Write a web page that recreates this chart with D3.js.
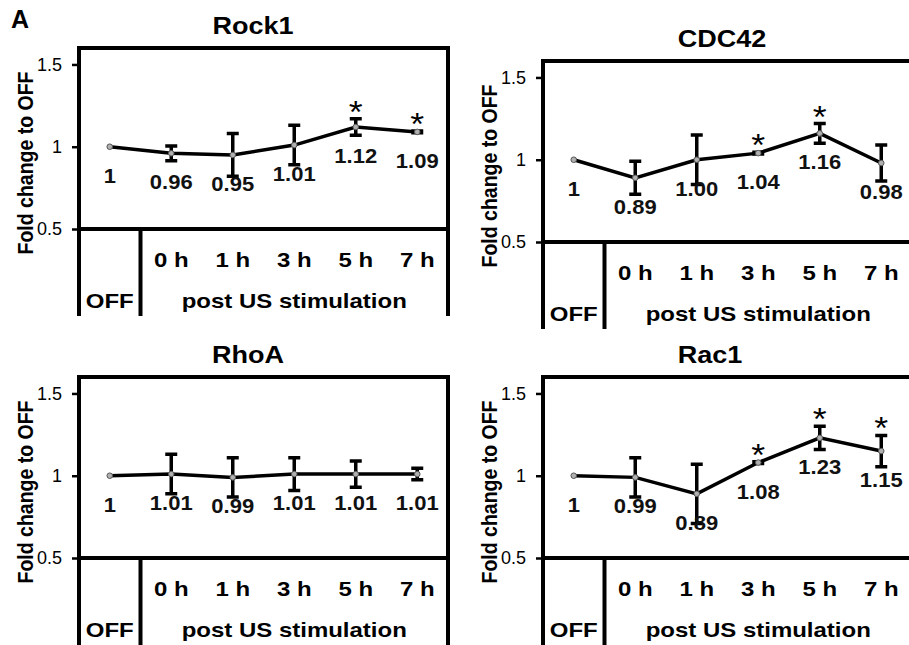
<!DOCTYPE html>
<html>
<head>
<meta charset="utf-8">
<script src="https://cdn.jsdelivr.net/npm/d3@7"></script>
<style>
  body { margin: 0; background: #fff; }
  text { font-family: "Liberation Sans", Arial, Helvetica, sans-serif; fill: #000; }
</style>
</head>
<body>
<script>
// categories on the x axis
var categories = ['OFF', '0 h', '1 h', '3 h', '5 h', '7 h'];
var yTicks = [0.5, 1, 1.5];

// values
var rock1Mean = [1, 0.96, 0.95, 1.01, 1.12, 1.09];
var rock1Err = [0, 0.045, 0.13, 0.12, 0.05, 0.005];
var rock1Labels = ['1', '0.96', '0.95', '1.01', '1.12', '1.09'];
var rock1Sig = [0, 0, 0, 0, 1, 1];

var cdc42Mean = [1, 0.89, 1.00, 1.04, 1.16, 0.98];
var cdc42Err = [0, 0.10, 0.15, 0.005, 0.06, 0.11];
var cdc42Labels = ['1', '0.89', '1.00', '1.04', '1.16', '0.98'];
var cdc42Sig = [0, 0, 0, 1, 1, 0];

var rhoaMean = [1, 1.01, 0.99, 1.01, 1.01, 1.01];
var rhoaErr = [0, 0.12, 0.12, 0.10, 0.08, 0.035];
var rhoaLabels = ['1', '1.01', '0.99', '1.01', '1.01', '1.01'];
var rhoaSig = [0, 0, 0, 0, 0, 0];

var rac1Mean = [1, 0.99, 0.89, 1.08, 1.23, 1.15];
var rac1Err = [0, 0.12, 0.18, 0.005, 0.07, 0.095];
var rac1Labels = ['1', '0.99', '0.89', '1.08', '1.23', '1.15'];
var rac1Sig = [0, 0, 0, 1, 1, 1];

var panels = [
    {name: 'Rock1', mean: rock1Mean, err: rock1Err, labels: rock1Labels, sig: rock1Sig, left: 79, top: 48, titleX: 174},
    {name: 'CDC42', mean: cdc42Mean, err: cdc42Err, labels: cdc42Labels, sig: cdc42Sig, left: 543, top: 61, titleX: 179},
    {name: 'RhoA', mean: rhoaMean, err: rhoaErr, labels: rhoaLabels, sig: rhoaSig, left: 79, top: 377, titleX: 169},
    {name: 'Rac1', mean: rac1Mean, err: rac1Err, labels: rac1Labels, sig: rac1Sig, left: 543, top: 377, titleX: 167}
];

var W = 909, H = 645;
var pw = 369, ph = 181, bottomEnd = 266;
var SX = 1.17; // the figure's lettering is a little wider than the font

var svg = d3.select('body').append('svg')
    .attr('width', W)
    .attr('height', H);

svg.append('rect').attr('width', W).attr('height', H).attr('fill', '#fff');

svg.append('text')
    .attr('x', 11)
    .attr('y', 28)
    .style('font-size', '25px')
    .style('font-weight', 'bold')
    .text('A');

var x = d3.scaleBand().domain(categories).range([0, pw]).padding(0);
var y = d3.scaleLinear().domain([0.5, 1.6]).range([ph, 0]);
var bw = x.bandwidth();

function wide(sel, fx, fy, s) {
    return sel.attr('transform', function (d) {
        return 'translate(' + fx(d) + ',' + fy(d) + ') scale(' + s + ',1)';
    });
}

function drawPanel(p) {
    var g = svg.append('g')
        .attr('transform', 'translate(' + p.left + ',' + p.top + ')');

    var data = categories.map(function (c, i) {
        return {cat: c, v: p.mean[i], e: p.err[i], label: p.labels[i], sig: p.sig[i]};
    });

    // title
    g.append('text')
        .attr('transform', 'translate(' + p.titleX + ',-14) scale(1.15,1)')
        .attr('text-anchor', 'middle')
        .style('font-size', '23.5px')
        .style('font-weight', 'bold')
        .text(p.name);

    // frame and table lines
    var frame = [
        [[0, 0], [pw, 0]],
        [[0, 0], [0, bottomEnd]],
        [[pw, 0], [pw, bottomEnd]],
        [[0, ph], [pw, ph]],
        [[x('0 h'), ph], [x('0 h'), bottomEnd]]
    ];
    g.selectAll('.frame').data(frame).enter()
        .append('path')
        .attr('class', 'frame')
        .attr('d', d3.line())
        .attr('stroke', '#000')
        .attr('stroke-width', 4)
        .attr('stroke-linecap', 'square')
        .attr('fill', 'none');

    // y axis
    var yAxis = g.append('g')
        .call(d3.axisLeft(y).tickValues(yTicks).tickSize(7).tickSizeOuter(0).tickPadding(10)
            .tickFormat(function (d) { return String(d); }));
    yAxis.select('.domain').remove();
    yAxis.selectAll('.tick line').attr('stroke', '#000').attr('stroke-width', 2.5);
    yAxis.selectAll('.tick text')
        .style('font-size', '18px')
        .style('font-family', '"Liberation Sans", Arial, sans-serif')
        .attr('fill', '#000');

    g.append('text')
        .attr('transform', 'translate(-46,115) scale(' + SX + ',1) rotate(-90)')
        .attr('text-anchor', 'middle')
        .style('font-size', '19.5px')
        .style('font-weight', 'bold')
        .text('Fold change to OFF');

    // category labels
    wide(g.selectAll('.cat').data(categories.slice(1)).enter()
        .append('text')
        .attr('class', 'cat'),
        function (d) { return x(d) + bw / 2; },
        function () { return ph + 38; }, SX)
        .attr('text-anchor', 'middle')
        .style('font-size', '20.5px')
        .style('font-weight', 'bold')
        .text(function (d) { return d; });

    g.append('text')
        .attr('transform', 'translate(' + (x('OFF') + bw / 2) + ',' + (ph + 79) + ') scale(' + SX + ',1)')
        .attr('text-anchor', 'middle')
        .style('font-size', '20.5px')
        .style('font-weight', 'bold')
        .text('OFF');

    g.append('text')
        .attr('transform', 'translate(' + ((x('0 h') + pw) / 2) + ',' + (ph + 79) + ') scale(' + SX + ',1)')
        .attr('text-anchor', 'middle')
        .style('font-size', '20.5px')
        .style('font-weight', 'bold')
        .text('post US stimulation');

    var cx = function (d) { return x(d.cat) + bw / 2; };

    // connecting line
    g.append('path')
        .datum(data)
        .attr('d', d3.line().x(cx).y(function (d) { return y(d.v); }))
        .attr('fill', 'none')
        .attr('stroke', '#000')
        .attr('stroke-width', 3.5);

    // error bars
    var eb = g.selectAll('.eb').data(data.filter(function (d) { return d.e > 0; })).enter()
        .append('g')
        .attr('class', 'eb');
    eb.append('path')
        .attr('d', function (d) {
            var xx = cx(d), y1 = y(d.v + d.e), y2 = y(d.v - d.e);
            return 'M' + xx + ',' + y1 + 'V' + y2 +
                'M' + (xx - 6) + ',' + y1 + 'H' + (xx + 6) +
                'M' + (xx - 6) + ',' + y2 + 'H' + (xx + 6);
        })
        .attr('stroke', '#000')
        .attr('stroke-width', 3.5)
        .attr('fill', 'none');

    // points
    g.selectAll('.pt').data(data).enter()
        .append('circle')
        .attr('class', 'pt')
        .attr('cx', cx)
        .attr('cy', function (d) { return y(d.v); })
        .attr('r', 2.8)
        .attr('fill', '#b0b0b0')
        .attr('stroke', '#555')
        .attr('stroke-width', 1);

    // value labels
    wide(g.selectAll('.val').data(data).enter()
        .append('text')
        .attr('class', 'val'),
        cx, function (d) { return y(d.v) + 36; }, 1.1)
        .attr('text-anchor', 'middle')
        .style('font-size', '20px')
        .style('font-weight', 'bold')
        .style('fill', '#111')
        .text(function (d) { return d.label; });

    // significance stars
    wide(g.selectAll('.star').data(data.filter(function (d) { return d.sig; })).enter()
        .append('text')
        .attr('class', 'star'),
        cx, function (d) { return y(d.v + d.e) + 4; }, 1.15)
        .attr('text-anchor', 'middle')
        .style('font-size', '31px')
        .text('*');
}

panels.forEach(drawPanel);
</script>
</body>
</html>
